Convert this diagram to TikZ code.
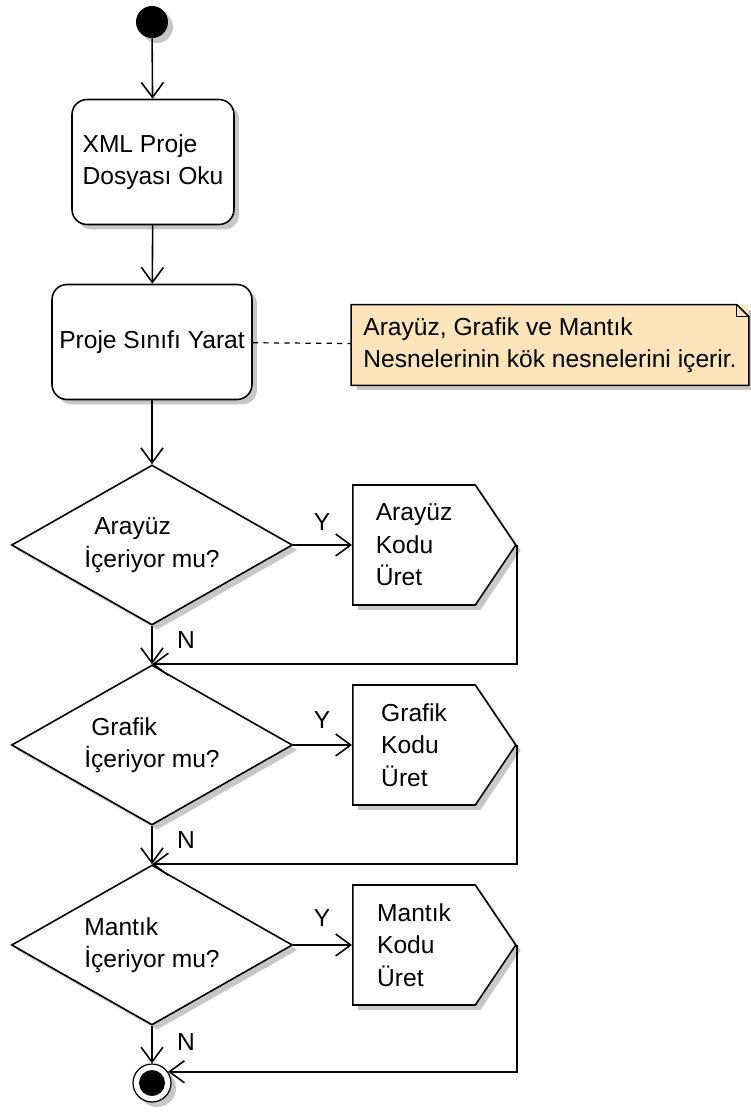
\documentclass[tikz,border=0pt]{standalone}
\usepackage{fontspec}
\setmainfont{Liberation Sans}
\usetikzlibrary{arrows.meta,shapes.geometric,shapes.symbols,shadows}
\definecolor{notefill}{HTML}{FDE4BA}
\tikzset{
  shd/.style={drop shadow={shadow xshift=.1cm, shadow yshift=-.1cm, fill=black, opacity=.22}},
  act/.style={draw, rounded corners=.3cm, line width=.9pt, fill=white, align=left, inner sep=0pt, shd},
  dec/.style={diamond, aspect=1.76, draw, line width=.9pt, fill=white, align=left, inner sep=0pt, minimum width=5.62cm, minimum height=3.2cm, shd},
  gen/.style={signal, signal to=east, signal from=nowhere, signal pointer angle=112, draw, line width=.9pt, fill=white, align=left, minimum width=3.26cm, minimum height=2.4cm, shd},
  ar/.style={-{Straight Barb[length=3mm,width=4.4mm]}, line width=.9pt},
  lbl/.style={inner sep=0pt},
}

\begin{document}
\begin{tikzpicture}[x=0.02cm, y=-0.02cm, font=\fontsize{14}{18.5}\selectfont]
    \useasboundingbox (0,0) rectangle (751,1113);

    \node[circle, fill=black, minimum size=0.64cm, inner sep=0pt, shd] (start) at (152,22) {};
    \node[act, minimum width=3.24cm, minimum height=2.5cm] (oku) at (153,162) {XML Proje\\Dosyası Oku};
    \node[act, minimum width=4cm, minimum height=2.3cm] (yarat) at (152,342) {Proje Sınıfı Yarat};

    \node[fill=notefill, minimum width=7.94cm, minimum height=1.6cm, align=left, inner sep=0pt, shd] (note) at (550,345)
      {Arayüz, Grafik ve Mantık\\Nesnelerinin kök nesnelerini içerir.};
    \draw[line width=.9pt] (note.north west) -- ([xshift=-.24cm]note.north east) -- ([yshift=-.24cm]note.north east)
      -- (note.south east) -- (note.south west) -- cycle;
    \draw[line width=.6pt] ([xshift=-.24cm]note.north east) |- ([yshift=-.24cm]note.north east);

    \node[dec] (d1) at (152,545) {\hspace*{.2cm}Arayüz\\İçeriyor mu?};
    \node[dec] (d2) at (152,745) {\hspace*{.14cm}Grafik\\İçeriyor mu?};
    \node[dec] (d3) at (152,945) {Mantık\\İçeriyor mu?};

    \node[gen, anchor=west] (g1) at (352,545) {Arayüz\\Kodu\\Üret};
    \node[gen, anchor=west] (g2) at (352,745) {Grafik\\Kodu\\Üret};
    \node[gen, anchor=west] (g3) at (352,945) {Mantık\\Kodu\\Üret};

    \node[circle, draw, line width=.7pt, fill=white, minimum size=0.76cm, inner sep=0pt, shd] (fin) at (152,1083) {};
    \node[circle, fill=black, minimum size=0.52cm, inner sep=0pt] (fincore) at (fin.center) {};

    % akis
    \draw[ar] (start) -- (oku);
    \draw[ar] (oku) -- (yarat);
    \draw[ar] (yarat) -- (d1);
    \draw[dashed, dash pattern=on 3pt off 3pt, line width=.7pt] (yarat) -- (note);

    \draw[ar] (d1.east) -- (g1.west);
    \draw[ar] (d2.east) -- (g2.west);
    \draw[ar] (d3.east) -- (g3.west);
    \node[lbl] (y1) at (322,522) {Y};
    \node[lbl] (y2) at (322,720) {Y};
    \node[lbl] (y3) at (322,918) {Y};

    \draw[ar] (d1.south) -- (d2.north);
    \draw[ar] (d2.south) -- (d3.north);
    \draw[ar] (d3.south) -- (fin.north);
    \draw[ar] (g1.east) |- (d2.north);
    \draw[ar] (g2.east) |- (d3.north);
    \draw[ar] (g3.east) |- (fin.35);
    \node[lbl] (n1) at (186,640) {N};
    \node[lbl] (n2) at (186,840) {N};
    \node[lbl] (n3) at (186,1042) {N};
\end{tikzpicture}
\end{document}
